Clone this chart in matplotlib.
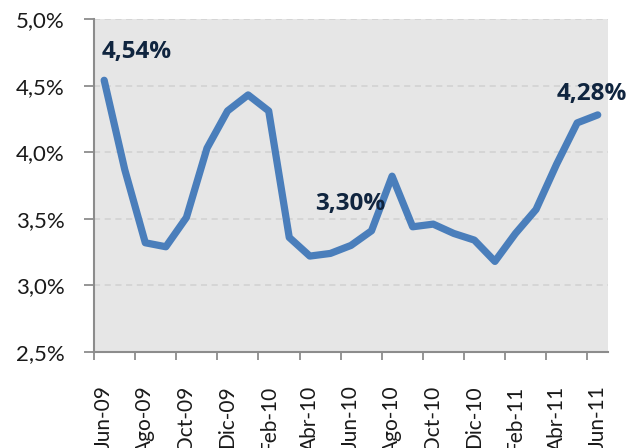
import matplotlib
matplotlib.use('Agg')
import matplotlib.pyplot as plt

months = ['Jun-09', 'Jul-09', 'Ago-09', 'Sep-09', 'Oct-09', 'Nov-09', 'Dic-09',
          'Ene-10', 'Feb-10', 'Mar-10', 'Abr-10', 'May-10', 'Jun-10', 'Jul-10',
          'Ago-10', 'Sep-10', 'Oct-10', 'Nov-10', 'Dic-10', 'Ene-11', 'Feb-11',
          'Mar-11', 'Abr-11', 'May-11', 'Jun-11']
values = [4.54, 3.87, 3.32, 3.29, 3.51, 4.03, 4.31, 4.43, 4.31, 3.36, 3.22,
          3.24, 3.30, 3.41, 3.82, 3.44, 3.46, 3.39, 3.34, 3.18, 3.39, 3.57,
          3.91, 4.22, 4.28]
yticks = [2.5, 3.0, 3.5, 4.0, 4.5, 5.0]
labelled = {0: '4,54%', 12: '3,30%', 24: '4,28%'}

plt.rcParams['font.family'] = ['Lato', 'DejaVu Sans']

fig = plt.figure(figsize=(6.43, 4.48), dpi=100)
ax = fig.add_axes([0.146, 0.2143, 0.7996, 0.7433])
ax.set_facecolor('#E6E6E6')

x = list(range(len(values)))
ax.plot(x, values, color='#4A7EBB', lw=5.2, solid_joinstyle='round',
        solid_capstyle='round', zorder=3)

# data labels
offsets = {0: (1.6, 0.21), 12: (-0.05, 0.31), 24: (-0.28, 0.16)}
for i, txt in labelled.items():
    dx, dy = offsets[i]
    ax.text(i + dx, values[i] + dy, txt, ha='center', va='center',
            fontsize=17.5, fontweight='bold', color='#10253F', zorder=4,
            family=['Open Sans', 'DejaVu Sans'])

ax.set_xlim(-0.5, len(values) - 0.5)
ax.set_ylim(2.5, 5.0)
ax.set_yticks(yticks)
ax.set_yticklabels([('%.1f%%' % v).replace('.', ',') for v in yticks],
                   fontsize=16, color='#1A1A1A')

# tick marks between categories, labels on every other category
ax.set_xticks([i - 0.5 for i in range(0, len(values), 2)])
ax.set_xticklabels([])
ax.set_xticks(list(range(0, len(values), 2)), minor=True)
ax.set_xticklabels(months[::2], minor=True, rotation=90, fontsize=15,
                   color='#1A1A1A', va='top')
ax.tick_params(axis='x', which='minor', length=0, pad=24)
ax.tick_params(axis='x', which='major', length=6, color='#8C8C8C', width=1.3)
ax.tick_params(axis='y', length=7, color='#8C8C8C', width=1.3, pad=14)

ax.yaxis.grid(True, linestyle=(0, (4, 3)), color='#D0D0D0', lw=1.1)
ax.set_axisbelow(True)
for side in ['top', 'right']:
    ax.spines[side].set_visible(False)
for side in ['left', 'bottom']:
    ax.spines[side].set_color('#8C8C8C')
    ax.spines[side].set_linewidth(1.5)

fig.savefig('out.png', dpi=100)
